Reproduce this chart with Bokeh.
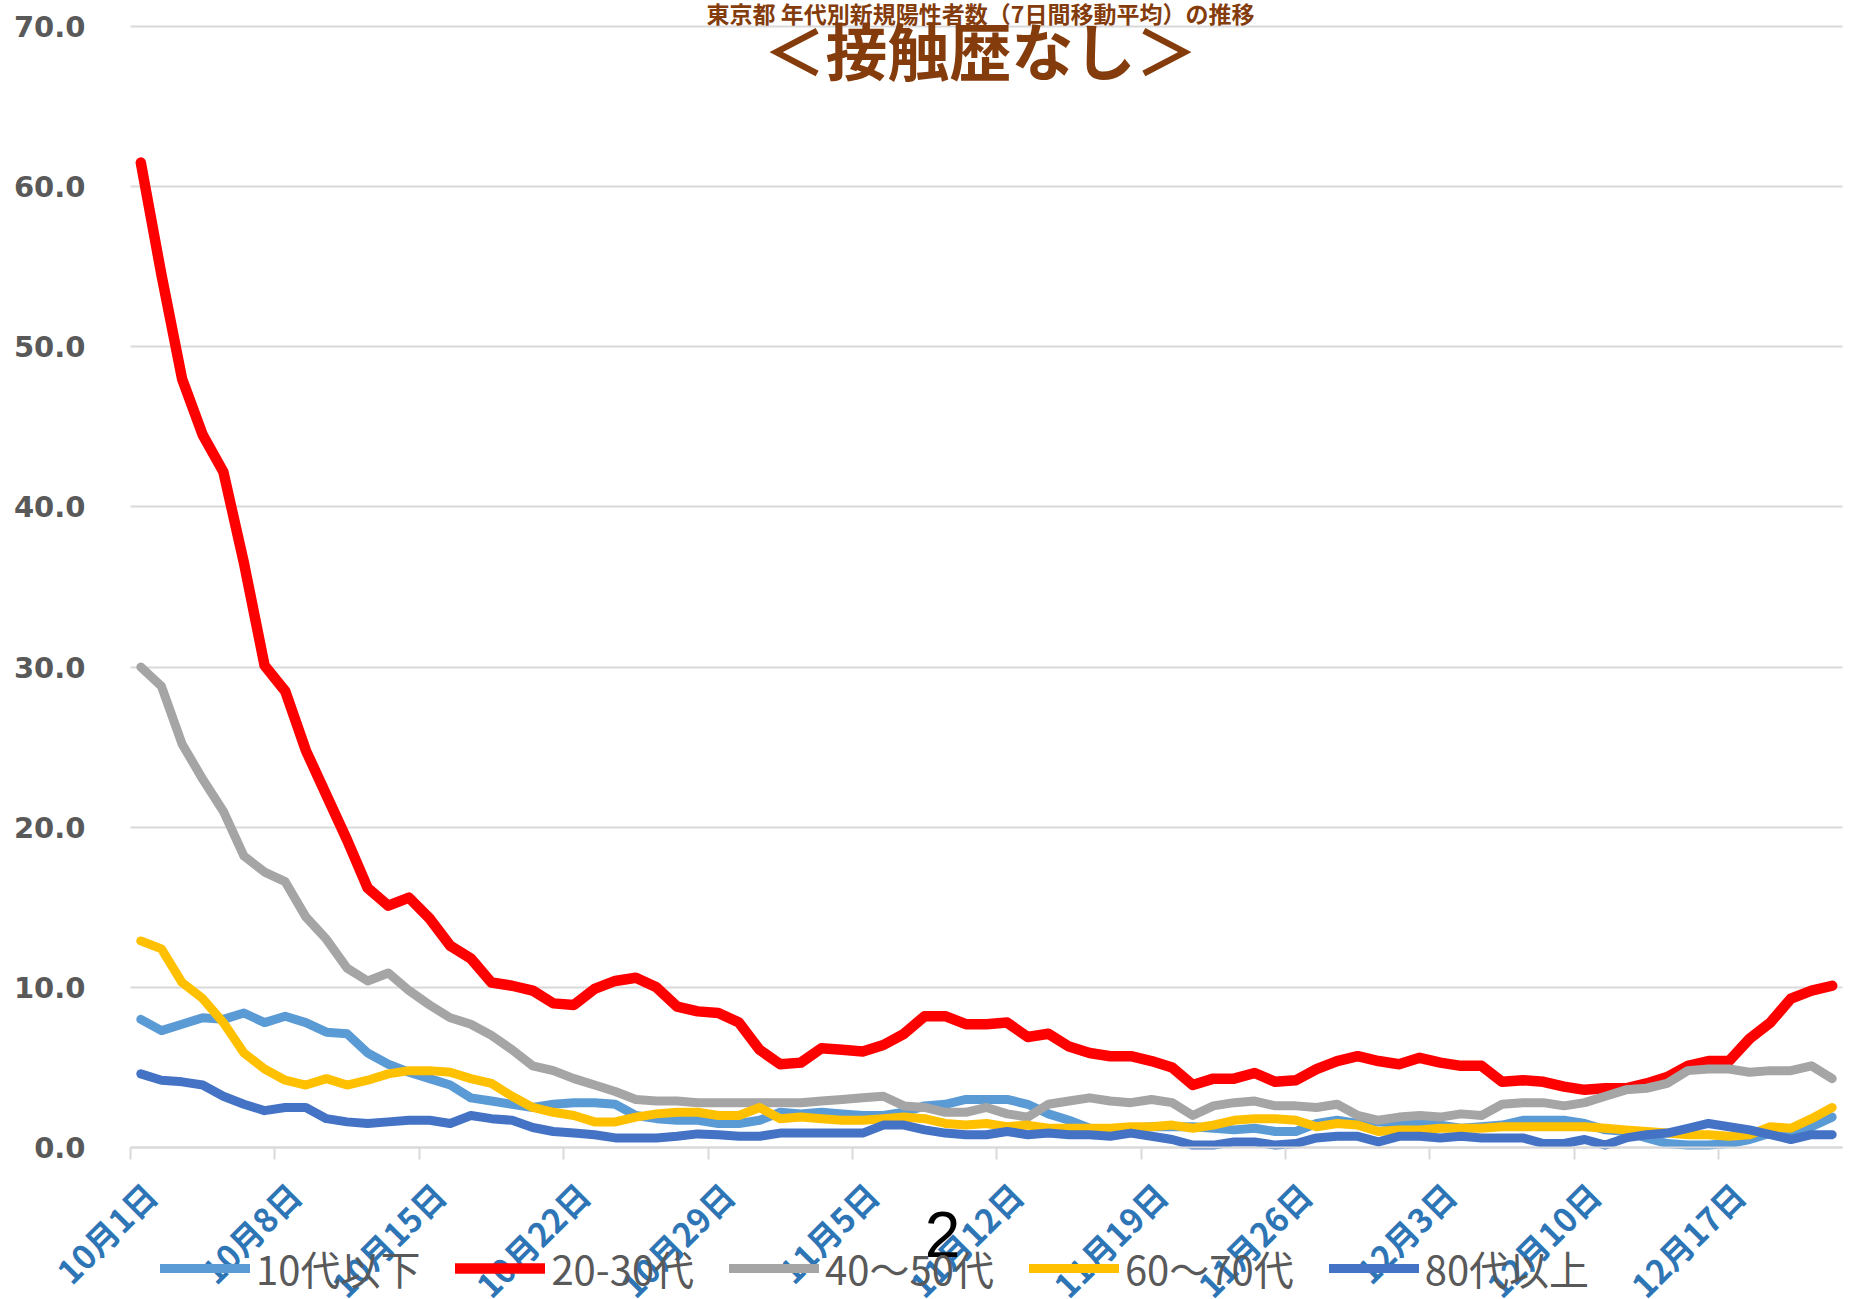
import math
from bokeh.plotting import figure
from bokeh.models import FixedTicker, NumeralTickFormatter, Legend, LegendItem, Label, Range1d
from bokeh.embed import file_html
from bokeh.resources import INLINE

# ---- data (7-day moving average, per day, 10/1 .. 12/22) ----
n_days = 83
days = list(range(n_days))

tick_pos = [0, 7, 14, 21, 28, 35, 42, 49, 56, 63, 70, 77]
tick_labels = ["10月1日", "10月8日", "10月15日", "10月22日", "10月29日", "11月5日",
               "11月12日", "11月19日", "11月26日", "12月3日", "12月10日", "12月17日"]

y_ticks = [0, 10, 20, 30, 40, 50, 60, 70]

series_names = ["10代以下", "20-30代", "40～50代", "60～70代", "80代以上"]

age_10_under = [8.0, 7.3, 7.7, 8.1, 8.0, 8.4, 7.8, 8.2, 7.8, 7.2, 7.1, 5.9, 5.2, 4.7,
                4.3, 3.9, 3.1, 2.9, 2.7, 2.5, 2.7, 2.8, 2.8, 2.7, 2.0, 1.8, 1.7, 1.7,
                1.5, 1.5, 1.7, 2.2, 2.1, 2.2, 2.1, 2.0, 2.0, 2.2, 2.6, 2.7, 3.0, 3.0,
                3.0, 2.7, 2.1, 1.7, 1.2, 1.1, 1.2, 1.3, 1.3, 1.3, 1.2, 1.1, 1.2, 1.0,
                1.0, 1.5, 1.7, 1.5, 1.6, 1.5, 1.5, 1.4, 1.2, 1.3, 1.4, 1.7, 1.7, 1.7,
                1.5, 1.1, 1.0, 0.6, 0.25, 0.15, 0.15, 0.25, 0.5, 0.9, 1.0, 1.3, 1.9]

age_20_30 = [61.5, 54.5, 48.0, 44.5, 42.2, 36.5, 30.1, 28.5, 24.8, 22.0, 19.2, 16.2, 15.1, 15.6,
             14.3, 12.6, 11.8, 10.3, 10.1, 9.8, 9.0, 8.9, 9.9, 10.4, 10.6, 10.0, 8.8, 8.5,
             8.4, 7.8, 6.1, 5.2, 5.3, 6.2, 6.1, 6.0, 6.4, 7.1, 8.2, 8.2, 7.7, 7.7,
             7.8, 6.9, 7.1, 6.3, 5.9, 5.7, 5.7, 5.4, 5.0, 3.9, 4.3, 4.3, 4.65, 4.1,
             4.2, 4.9, 5.4, 5.7, 5.4, 5.2, 5.6, 5.3, 5.1, 5.1, 4.1, 4.2, 4.1, 3.8,
             3.6, 3.7, 3.7, 4.0, 4.4, 5.1, 5.4, 5.4, 6.8, 7.8, 9.3, 9.8, 10.1]

age_40_50 = [30.0, 28.8, 25.2, 23.0, 21.0, 18.2, 17.2, 16.6, 14.4, 13.0, 11.2, 10.4, 10.9, 9.8,
             8.9, 8.1, 7.7, 7.0, 6.1, 5.1, 4.8, 4.3, 3.9, 3.5, 3.0, 2.9, 2.9, 2.8,
             2.8, 2.8, 2.8, 2.8, 2.8, 2.9, 3.0, 3.1, 3.2, 2.6, 2.5, 2.2, 2.2, 2.5,
             2.1, 1.9, 2.7, 2.9, 3.1, 2.9, 2.8, 3.0, 2.8, 2.0, 2.6, 2.8, 2.9, 2.6,
             2.6, 2.5, 2.7, 2.0, 1.7, 1.9, 2.0, 1.9, 2.1, 2.0, 2.7, 2.8, 2.8, 2.6,
             2.8, 3.2, 3.6, 3.7, 4.0, 4.8, 4.9, 4.9, 4.7, 4.8, 4.8, 5.1, 4.3]

age_60_70 = [12.9, 12.4, 10.3, 9.3, 7.8, 5.9, 4.9, 4.2, 3.9, 4.3, 3.9, 4.2, 4.6, 4.8,
             4.8, 4.7, 4.3, 4.0, 3.2, 2.5, 2.2, 2.0, 1.6, 1.6, 1.9, 2.1, 2.2, 2.2,
             2.0, 2.0, 2.5, 1.8, 1.9, 1.8, 1.7, 1.7, 1.8, 1.9, 1.8, 1.5, 1.4, 1.5,
             1.3, 1.4, 1.2, 1.2, 1.2, 1.2, 1.3, 1.3, 1.4, 1.2, 1.4, 1.7, 1.8, 1.8,
             1.7, 1.3, 1.5, 1.4, 1.0, 1.1, 1.1, 1.2, 1.2, 1.2, 1.3, 1.3, 1.3, 1.3,
             1.3, 1.2, 1.1, 1.0, 0.9, 0.8, 0.8, 0.7, 0.8, 1.3, 1.2, 1.8, 2.5]

age_80_over = [4.6, 4.2, 4.1, 3.9, 3.2, 2.7, 2.3, 2.5, 2.5, 1.8, 1.6, 1.5, 1.6, 1.7,
               1.7, 1.5, 2.0, 1.8, 1.7, 1.25, 1.0, 0.9, 0.8, 0.6, 0.6, 0.6, 0.7, 0.85,
               0.8, 0.7, 0.7, 0.9, 0.9, 0.9, 0.9, 0.9, 1.4, 1.4, 1.1, 0.9, 0.8, 0.8,
               1.0, 0.8, 0.9, 0.8, 0.8, 0.7, 0.9, 0.7, 0.5, 0.15, 0.15, 0.35, 0.35, 0.15,
               0.25, 0.6, 0.7, 0.7, 0.35, 0.7, 0.7, 0.6, 0.7, 0.6, 0.6, 0.6, 0.25, 0.25,
               0.5, 0.15, 0.6, 0.8, 0.9, 1.2, 1.5, 1.3, 1.1, 0.8, 0.5, 0.8, 0.8]

for s in (age_10_under, age_20_30, age_40_50, age_60_70, age_80_over):
    assert len(s) == n_days, len(s)

title_line1 = "東京都 年代別新規陽性者数（7日間移動平均）の推移"
title_line2 = "＜接触歴なし＞"
page_number = "2"

# ---- layout (pixels of the 1860x1299 canvas) ----
W, H = 1860, 1299
PLOT_L, PLOT_R = 130, 1842          # plot area left / right
Y0_PX, Y70_PX = 1147, 26            # canvas rows of y=0 and y=70
px_day = (PLOT_R - PLOT_L) / n_days
px_unit = (Y0_PX - Y70_PX) / 70.0
x_lo = -0.5 - PLOT_L / px_day
x_hi = (n_days - 0.5) + (W - PLOT_R) / px_day
y_lo = -(H - Y0_PX) / px_unit
y_hi = 70 + Y70_PX / px_unit

colors = ["#5B9BD5", "#FF0000", "#A5A5A5", "#FFC000", "#4472C4"]
widths = [9, 10.5, 9, 9, 9]
GRID = "#D9D9D9"
JP = "Noto Sans CJK JP"

p = figure(width=W, height=H, x_range=Range1d(x_lo, x_hi), y_range=Range1d(y_lo, y_hi),
           output_backend="svg", toolbar_location=None, min_border=0)
p.outline_line_color = None
p.background_fill_color = "white"
p.border_fill_color = "white"

p.xgrid.visible = False
yg = p.ygrid[0]
yg.ticker = FixedTicker(ticks=y_ticks)
yg.grid_line_color = GRID
yg.grid_line_width = 2
if "cross_bounds" in yg.properties():
    yg.cross_bounds = (-0.5, n_days - 0.5)

xa = p.xaxis[0]
xa.fixed_location = 0
xa.bounds = (-0.5, n_days - 0.5)
label_pos = [t + 0.45 for t in tick_pos]
xa.ticker = FixedTicker(ticks=label_pos, minor_ticks=[t - 0.5 for t in tick_pos])
xa.major_label_overrides = {lp: lab for lp, lab in zip(label_pos, tick_labels)}
xa.major_label_orientation = math.pi / 4
xa.major_tick_line_color = None
xa.major_tick_out = 12
xa.major_tick_in = 0
xa.minor_tick_out = 12
xa.minor_tick_in = 0
xa.minor_tick_line_color = GRID
xa.minor_tick_line_width = 2
xa.axis_line_color = GRID
xa.axis_line_width = 2
xa.major_label_standoff = 29
xa.major_label_text_font = JP
xa.major_label_text_font_size = "33px"
xa.major_label_text_font_style = "bold"
xa.major_label_text_color = "#2E75B6"

ya = p.yaxis[0]
ya.fixed_location = -0.5
ya.ticker = FixedTicker(ticks=y_ticks)
ya.formatter = NumeralTickFormatter(format="0.0")
ya.axis_line_color = None
ya.major_tick_line_color = None
ya.minor_tick_line_color = None
ya.major_tick_out = 0
ya.major_tick_in = 0
ya.major_label_standoff = 45
ya.major_label_text_font = "DejaVu Sans"
ya.major_label_text_font_style = "bold"
ya.major_label_text_font_size = "29px"
ya.major_label_text_color = "#595959"

series = [age_10_under, age_20_30, age_40_50, age_60_70, age_80_over]
items = []
for name, vals, c, w in zip(series_names, series, colors, widths):
    r = p.line(days, vals, line_color=c, line_width=w, line_join="round", line_cap="round")
    items.append(LegendItem(label=name, renderers=[r]))

legend = Legend(items=items, orientation="horizontal", location=(160, 2),
                glyph_width=90, glyph_height=40, label_height=40, label_standoff=6, spacing=35,
                padding=0, margin=0, border_line_color=None, background_fill_color=None,
                label_text_font=JP, label_text_font_size="40px", label_text_color="#595959")
p.add_layout(legend, "center")

p.add_layout(Label(x=980, y=H - 12, x_units="screen", y_units="screen", text=title_line1,
                   text_align="center", text_baseline="middle", text_font=JP,
                   text_font_size="23px", text_font_style="bold", text_color="#843C0C"))
p.add_layout(Label(x=980, y=H - 48, x_units="screen", y_units="screen", text=title_line2,
                   text_align="center", text_baseline="middle", text_font=JP,
                   text_font_size="62px", text_font_style="bold", text_color="#843C0C"))
p.add_layout(Label(x=942, y=H - 1234, x_units="screen", y_units="screen", text=page_number,
                   text_align="center", text_baseline="alphabetic", text_font="Liberation Sans",
                   text_font_size="64px", text_color="#000000"))

open("out.html", "w").write(file_html(p, INLINE))
